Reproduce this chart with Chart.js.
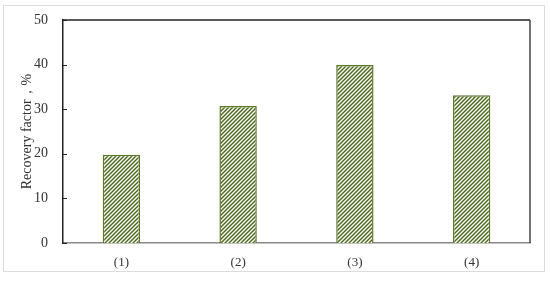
<!DOCTYPE html>
<html>
<head>
<meta charset="utf-8">
<script src="https://cdn.jsdelivr.net/npm/chart.js@4"></script>
<style>
  body { margin: 0; background: #fff; }
  #frame { position: absolute; left: 3px; top: 5px; width: 540px; height: 265px; border: 1px solid #dcdcdc; }
  #wrap { position: absolute; left: 0; top: 0; width: 550px; height: 283px; }
</style>
</head>
<body>
<div id="frame"></div>
<div id="wrap"><canvas id="chart"></canvas></div>
<script>
// data
const categories = ['(1)', '(2)', '(3)', '(4)'];
const recovery = [19.8, 30.7, 39.9, 33.1];
const yTicks = [0, 10, 20, 30, 40, 50];

const SERIF = '"Liberation Serif", "DejaVu Serif", serif';

// diagonal hatch fill
function makeHatch() {
    const c = document.createElement('canvas');
    c.width = 4; c.height = 4;
    const g = c.getContext('2d');
    g.fillStyle = '#ffffff';
    g.fillRect(0, 0, 4, 4);
    g.strokeStyle = '#4f6a1e';
    g.lineWidth = 1.5;
    g.beginPath();
    g.moveTo(-1, 5); g.lineTo(5, -1);
    g.moveTo(-1, 1); g.lineTo(1, -1);
    g.moveTo(3, 5); g.lineTo(5, 3);
    g.stroke();
    return g.createPattern(c, 'repeat');
}

// frame lines on top/right and inward ticks on the y axis
const framePlugin = {
    id: 'framePlugin',
    afterDraw(chart) {
        const { ctx, chartArea: a, scales: { y } } = chart;
        ctx.save();
        ctx.lineWidth = 1.5;
        ctx.strokeStyle = '#222';
        ctx.beginPath();
        ctx.moveTo(a.left, a.top);
        ctx.lineTo(a.right, a.top);
        ctx.stroke();
        ctx.strokeStyle = '#444';
        ctx.beginPath();
        ctx.moveTo(a.right, a.top);
        ctx.lineTo(a.right, a.bottom);
        ctx.stroke();
        ctx.lineWidth = 1;
        ctx.strokeStyle = '#222';
        yTicks.forEach(v => {
            const py = Math.round(y.getPixelForValue(v)) + 0.5;
            ctx.beginPath();
            ctx.moveTo(a.left, py);
            ctx.lineTo(a.left + 4, py);
            ctx.stroke();
        });
        ctx.restore();
    }
};

new Chart(document.getElementById('chart'), {
    type: 'bar',
    data: {
        labels: categories,
        datasets: [{
            data: recovery,
            backgroundColor: makeHatch(),
            borderColor: '#5f7a2c',
            borderWidth: 1.5,
            categoryPercentage: 1,
            barPercentage: 0.32
        }]
    },
    options: {
        responsive: true,
        maintainAspectRatio: false,
        animation: false,
        layout: { padding: { left: 0, top: 20, right: 20, bottom: 0 } },
        plugins: { legend: { display: false }, tooltip: { enabled: false } },
        scales: {
            x: {
                grid: { display: false },
                border: { display: true, color: '#888', width: 1.5 },
                ticks: { color: '#333', padding: 4, font: { family: SERIF, size: 13 } },
                afterFit(scale) { scale.height = 40; }
            },
            y: {
                min: 0,
                max: 50,
                grid: { display: false },
                border: { display: true, color: '#222', width: 1.5 },
                ticks: {
                    stepSize: 10,
                    color: '#333',
                    padding: 7,
                    font: { family: SERIF, size: 14 }
                },
                title: {
                    display: true,
                    text: 'Recovery factor，%',
                    color: '#333',
                    padding: { top: 19, bottom: 0 },
                    font: { family: SERIF, size: 14 }
                },
                afterFit(scale) { scale.width = 63; }
            }
        }
    },
    plugins: [framePlugin]
});
</script>
</body>
</html>
